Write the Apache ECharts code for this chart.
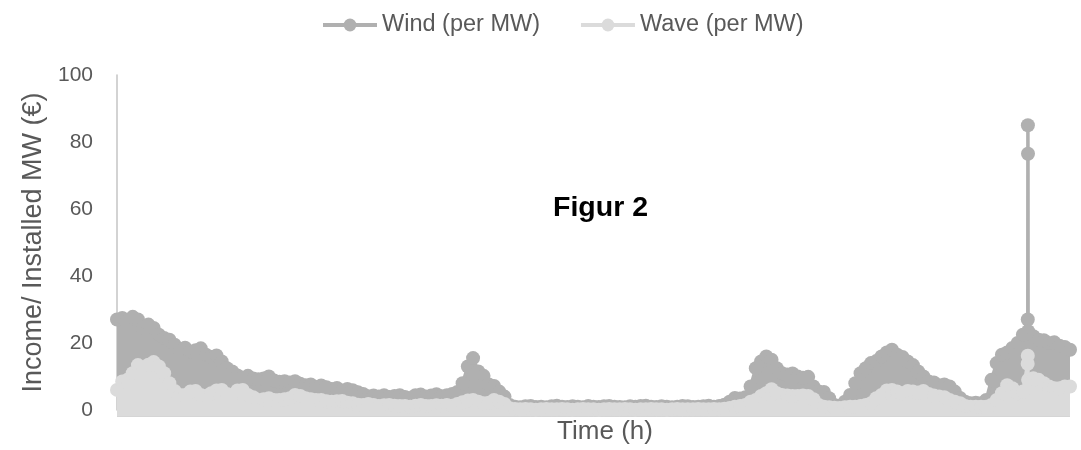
<!DOCTYPE html>
<html>
<head>
<meta charset="utf-8">
<script src="https://cdn.jsdelivr.net/npm/echarts@6/dist/echarts.min.js"></script>
<style>
  html, body { margin: 0; padding: 0; background: #ffffff; overflow: hidden; }
  #chart { width: 1081px; height: 450px; }
</style>
</head>
<body>
<div id="chart"></div>
<script>
// Sampling step of the hourly series (hours between samples)
const stepHours = 48;
const seriesNames = ['Wind (per MW)', 'Wave (per MW)'];
const yTicks = [0, 20, 40, 60, 80, 100];

// Wind income per installed MW, sampled every 48 h (envelope of hourly values)
const windValues = [
  27, 27.5, 26.5, 27.8, 27, 24.5, 25.5, 24.5, 22.5, 21.5,
  21, 19.5, 18, 18.6, 17.5, 17.8, 18.4, 16.5, 15.8, 16.3,
  14.5, 12.5, 11.5, 10.3, 9.6, 10.2, 9.4, 9.2, 9.4, 10,
  8.8, 8.4, 8.6, 8.2, 8.6, 7.8, 7.4, 7.6, 6.9, 7.3,
  6.8, 6.3, 6.6, 5.8, 6.3, 5.9, 5.3, 4.8, 4.1, 4.3,
  4.0, 4.4, 3.9, 4.2, 4.4, 3.9, 3.6, 4.4, 4.6, 4.0,
  4.3, 4.7, 4.1, 4.4, 4.8, 5.4, 8, 13, 15.5, 11.5,
  10.2, 7.6, 7.2, 5.5, 4, 1.5,
  1.0, 0.8, 1.1, 1.2, 0.9, 1.0, 0.8, 1.1, 1.3, 1.0,
  0.9, 1.1, 1.0, 0.8, 1.2, 1.0, 0.9, 1.1, 1.2, 1.0,
  0.9, 0.8, 1.1, 1.0, 1.2, 1.3, 1.0, 0.9, 1.1, 1.0,
  0.8, 1.0, 1.2, 1.1, 0.9, 1.0, 1.1, 1.3, 1.0, 1.2,
  1.6,
  2.5, 3.6, 3.4, 3.8, 7, 12.5, 14.5, 16, 15, 12.5,
  11, 10.6, 10.9, 10, 9.6, 9.9, 7, 5.5, 5.4, 3.5,
  1.5, 1.3, 2.5, 4.5, 8, 11, 12.5, 14, 14.6, 16,
  17.2, 18, 16.5, 15.8, 14.5, 13.4, 11.5, 10, 8.5, 8.2,
  7.4, 7.6, 7, 5.5, 3.6, 2.5, 2, 2.2, 2, 3,
  9, 14, 16.5, 17.2, 18.5, 20, 22.5, 23.5, 22, 21,
  20.8, 20, 20.2, 19.2, 18.8, 18
];
// Isolated hourly spike in the wind series
const windSpikeHours = [8349, 8350, 8351];
const windSpikeValues = [27, 85, 76.5];

// Wave income per installed MW, sampled every 48 h
const waveValues = [
  6, 8.5, 9, 11, 13.4, 12, 13.5, 14.3, 13, 11,
  8, 5.7, 4.5, 4.5, 5.5, 5.7, 4.5, 4.2, 5, 5.8,
  6, 4.8, 4.5, 5.8, 6, 4.5, 3.8, 3, 3.2, 3.5,
  3, 3, 3.2, 3.5, 4.5, 4.2, 3.5, 3.2, 3, 3,
  2.6, 2.5, 2.6, 2.7, 2.2, 2, 1.6, 1.5, 1.8, 1.5,
  1.2, 1.4, 1.5, 1.3, 1.2, 1.2, 1, 1.3, 1.5, 1.2,
  1.2, 1.4, 1.3, 1.5, 1.3, 1.8, 2.3, 2.8, 3, 2.5,
  2, 2.2, 3, 2.5, 1.8, 0.5,
  0.3, 0.2, 0.3, 0.2, 0.1, 0.2, 0.3, 0.2, 0.2, 0.3,
  0.2, 0.1, 0.2, 0.3, 0.2, 0.2, 0.1, 0.2, 0.3, 0.2,
  0.2, 0.3, 0.2, 0.1, 0.2, 0.2, 0.3, 0.2, 0.2, 0.1,
  0.2, 0.3, 0.2, 0.2, 0.2, 0.3, 0.2, 0.2, 0.3, 0.2,
  0.4,
  0.6, 1, 1.2, 1.5, 2.5, 3, 4.2, 5, 6.2, 5,
  4.5, 4.3, 4.2, 4.2, 4.3, 4.2, 3.2, 1.5, 1, 0.8,
  0.7, 0.6, 0.8, 1, 1, 1.2, 1.5, 2, 3.5, 4.5,
  5.8, 6, 5.5, 5, 5.7, 5.5, 5.2, 5.7, 4.8, 4.3,
  4, 3.8, 3, 2.5, 2, 1.2, 1, 1, 1, 1,
  1.5, 3, 5, 7.4, 6.5, 5, 5.5, 9, 9.5, 9,
  8, 7, 6.5, 6.5, 7, 7
];
const waveSpikeHours = [8348, 8349];
const waveSpikeValues = [13.8, 16.2];

function buildSeries(values, spikeHours, spikeValues) {
  const pts = values.map((v, i) => [i * stepHours, v]);
  spikeHours.forEach((h, k) => pts.push([h, spikeValues[k]]));
  pts.sort((a, b) => a[0] - b[0]);
  return pts;
}
const windData = buildSeries(windValues, windSpikeHours, windSpikeValues);
const waveData = buildSeries(waveValues, waveSpikeHours, waveSpikeValues);
const maxHour = (windValues.length - 1) * stepHours;

const FONT = '"Liberation Sans", Arial, sans-serif';
const WIND = '#B0B0B0';
const WAVE = '#DBDBDB';

const chart = echarts.init(document.getElementById('chart'), null, { renderer: 'canvas', width: 1081, height: 450 });

function lineSeries(name, data, color) {
  return {
    name: name,
    type: 'line',
    data: data,
    clip: false,
    symbol: 'circle',
    symbolSize: 14,
    showSymbol: true,
    showAllSymbol: true,
    itemStyle: { color: color, borderWidth: 0 },
    lineStyle: { color: color, width: 3.5 },
    areaStyle: { color: color, opacity: 1, origin: -2 },
    emphasis: { disabled: true },
    animation: false
  };
}

chart.setOption({
  animation: false,
  backgroundColor: '#ffffff',
  textStyle: { fontFamily: FONT },
  legend: {
    data: seriesNames,
    top: 8,
    left: 316,
    itemWidth: 54,
    itemHeight: 16,
    itemGap: 39,
    lineStyle: { width: 4 },
    textStyle: { fontSize: 23.5, color: '#595959', fontFamily: FONT }
  },
  graphic: [{
    type: 'text',
    left: 553,
    top: 194,
    style: { text: 'Figur 2', font: 'bold 28.5px ' + FONT, fill: '#000000' }
  }],
  grid: { left: 117, right: 11, top: 75, height: 340, containLabel: false },
  xAxis: {
    type: 'value',
    min: 0,
    max: maxHour,
    name: 'Time (h)',
    nameLocation: 'middle',
    nameGap: 9,
    nameTextStyle: { fontSize: 26, color: '#595959', fontFamily: FONT, padding: [0, 0, 0, 23] },
    axisLine: { show: false },
    axisTick: { show: false },
    axisLabel: { show: false },
    splitLine: { show: false }
  },
  yAxis: {
    type: 'value',
    min: yTicks[0],
    max: yTicks[yTicks.length - 1],
    interval: 20,
    name: 'Income/ Installed MW (€)',
    nameLocation: 'middle',
    nameGap: 69,
    nameTextStyle: { fontSize: 27, color: '#595959', fontFamily: FONT },
    axisLine: { show: true, lineStyle: { color: '#C4C4C4', width: 1.5 } },
    axisTick: { show: false },
    axisLabel: { fontSize: 21, color: '#595959', margin: 24, fontFamily: FONT },
    splitLine: { show: false }
  },
  series: [
    lineSeries(seriesNames[0], windData, WIND),
    lineSeries(seriesNames[1], waveData, WAVE)
  ]
});
</script>
</body>
</html>
